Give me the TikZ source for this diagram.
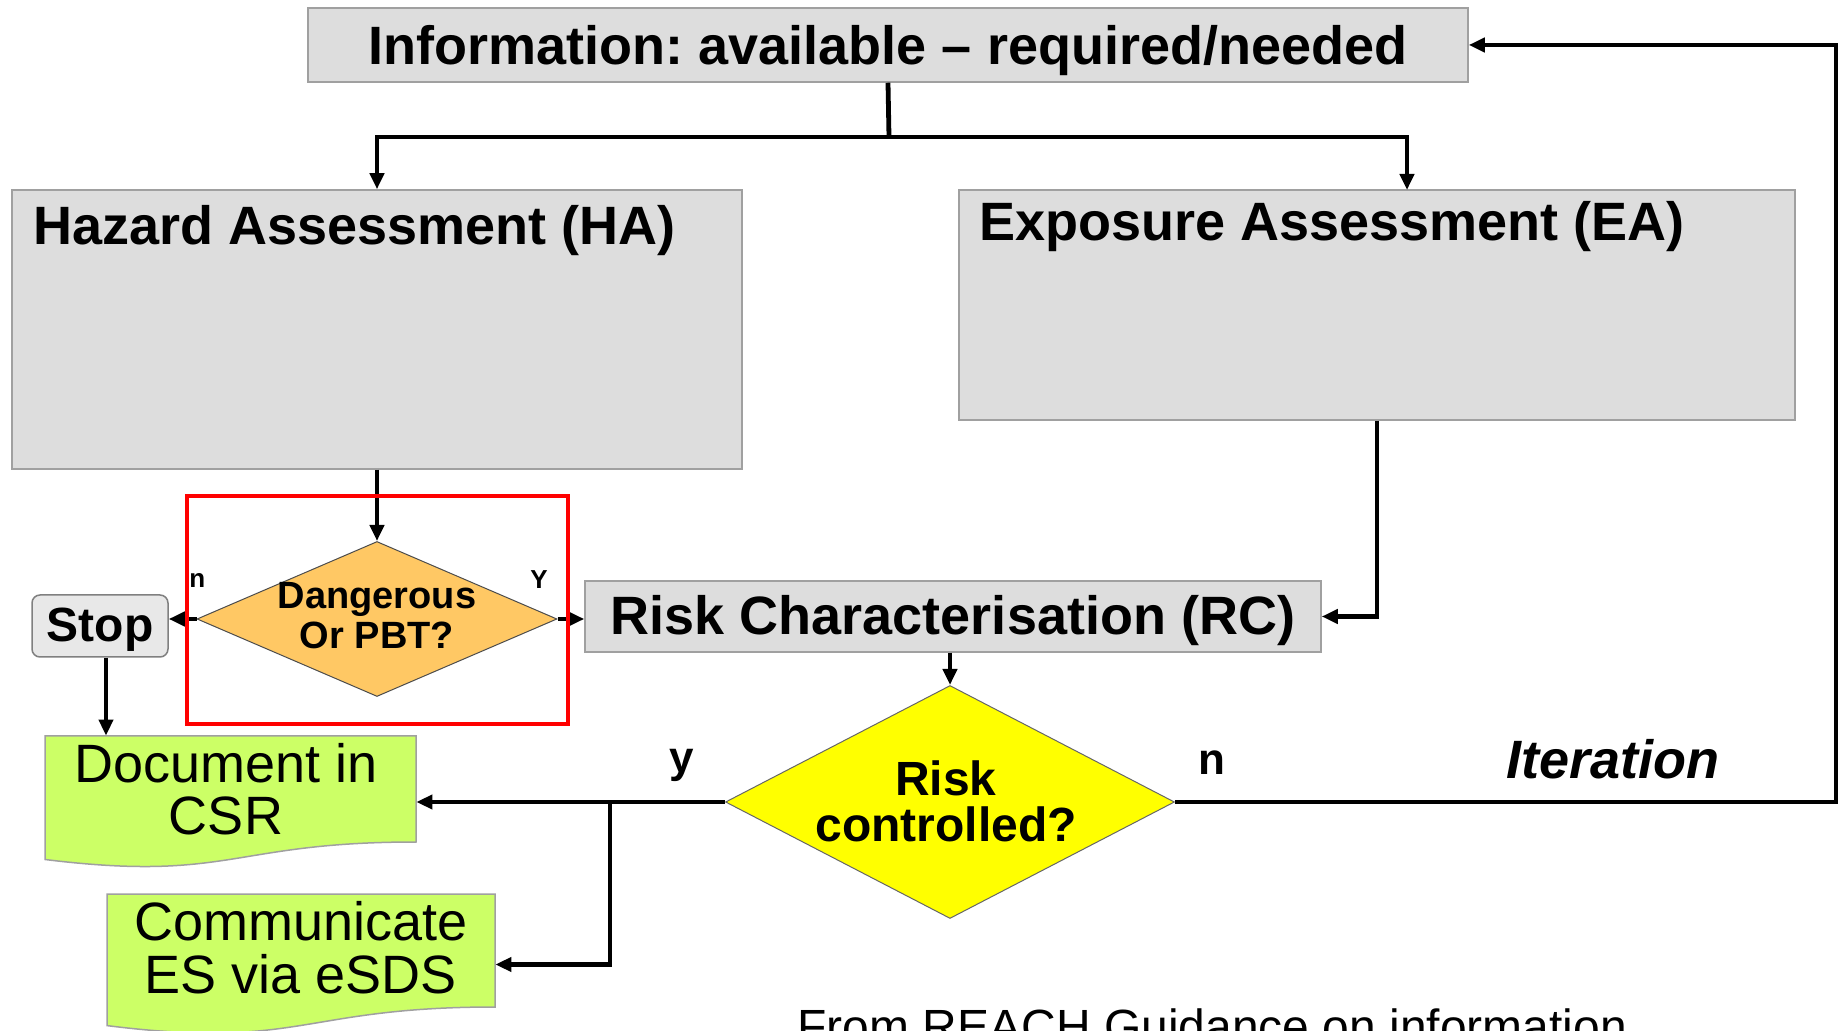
\documentclass[tikz,border=0pt]{standalone}
\usepackage{fontspec}
\setmainfont{Liberation Sans}
\usetikzlibrary{shapes.geometric,arrows.meta}
\definecolor{boxfill}{RGB}{221,221,221}
\definecolor{boxborder}{RGB}{160,160,160}
\definecolor{stopfill}{RGB}{232,232,232}
\definecolor{dangerfill}{RGB}{255,200,100}
\definecolor{riskfill}{RGB}{255,255,0}
\definecolor{greenfill}{RGB}{204,255,102}
\definecolor{hired}{RGB}{255,0,0}
\newcommand{\fsz}[2]{\fontsize{#1}{#2}\selectfont}
\frenchspacing
\begin{document}
\frenchspacing
\begin{tikzpicture}[x=0.5pt,y=-0.5pt,
  graybox/.style={draw=boxborder,fill=boxfill,line width=0.75pt,inner sep=0pt,anchor=center},
  anchorbox/.style={draw=none,inner sep=0pt,anchor=center},
  bigbold/.style={font=\fsz{27pt}{32pt}\bfseries},
  docshape/.style={draw=boxborder,fill=greenfill,line width=0.75pt},
  line/.style={line width=2.4pt},
  conn/.style={line width=2.4pt,-{Triangle[length=8pt,width=7pt]}},
  smalllab/.style={font=\fsz{13pt}{15pt}\bfseries,inner sep=0pt},
  yn/.style={font=\fsz{22pt}{26pt}\bfseries,inner sep=0pt,anchor=base}
]
\fill[white] (0,0) rectangle (1843,1031);
\useasboundingbox (0,0) rectangle (1843,1031);

% top information box
\node[graybox,bigbold,minimum width=580pt,minimum height=37pt,text height=20pt,text depth=0pt] (info) at (888,45) {Information: available – required/needed};

% assessment boxes
\node[graybox,minimum width=365pt,minimum height=139.5pt] (ha) at (377,329.5) {};
\node[bigbold,anchor=base west,inner sep=0pt] (hatext) at (33,245) {Hazard Assessment (HA)};
\node[graybox,minimum width=418pt,minimum height=115pt] (ea) at (1377,305) {};
\node[bigbold,anchor=base west,inner sep=0pt] (eatext) at (979,241) {Exposure Assessment (EA)};

% risk characterisation
\node[graybox,bigbold,minimum width=368pt,minimum height=35.5pt,text height=18.5pt,text depth=0pt] (rc) at (953,616.5) {Risk Characterisation (RC)};

% stop
\node[draw=boxborder!80!black,fill=stopfill,line width=0.75pt,rounded corners=4pt,inner sep=0pt,
      minimum width=68pt,minimum height=31pt,text height=16pt,text depth=0pt,
      font=\fsz{24pt}{28pt}\bfseries] (stop) at (100,626) {Stop};

% diamonds
\node[diamond,draw=black!70,fill=dangerfill,line width=0.5pt,inner sep=0pt,
      minimum width=180pt,minimum height=77.5pt] (d1) at (377,619) {};
\node[align=center,font=\fsz{19pt}{20pt}\bfseries,inner sep=0pt] (d1text) at (377,616) {Dangerous\\Or PBT?};
\node[diamond,draw=black!60,fill=riskfill,line width=0.5pt,inner sep=0pt,
      minimum width=224.5pt,minimum height=116.5pt] (d2) at (950,802) {};
\node[align=center,font=\fsz{24pt}{23pt}\bfseries,inner sep=0pt] (d2text) at (946,801) {Risk\\controlled?};

% document shapes
\filldraw[docshape] (45,736) -- (416,736) -- (416,842) .. controls (230.5,842) and (230.5,882.4) .. (45,859.5) -- cycle;
\node[anchorbox,minimum width=185.5pt,minimum height=66pt] (doc) at (230.5,802) {};
\node[align=center,font=\fsz{27pt}{26pt},inner sep=0pt] (doctxt) at (226,789.5) {Document in\\CSR};
\filldraw[docshape] (107,894) -- (495,894) -- (495,1007) .. controls (301,1007) and (301,1050) .. (107,1025.6) -- cycle;
\node[anchorbox,minimum width=194pt,minimum height=70.5pt] (comm) at (301,964.5) {};
\node[align=center,font=\fsz{27pt}{26.5pt},inner sep=0pt] (commtxt) at (301,948) {Communicate\\ES via eSDS};

% helper coordinates
\coordinate (br1) at (889,137);
\coordinate (eain) at (1407,190);
\coordinate (ybr) at (610,802);
\coordinate (loop) at (1836,400);

% connectors
\draw[line] (info.south) -- (br1);
\draw[conn] (br1) -| (ha.north);
\draw[conn] (br1) -| (eain);
\draw[conn] (ha.south) -- (d1.north);
\draw[conn] (d1.west) -- (d1.west -| stop.east);
\draw[conn] (d1.east) -- (d1.east -| rc.west);
\draw[conn] ([xshift=3pt]stop.south) -- ([xshift=3pt]stop.south |- doc.north);
\draw[conn] (ea.south) |- (rc.east);
\draw[conn] (rc.south -| d2.north) -- (d2.north);
\draw[conn] (d2.west) -- (d2.west -| doc.east);
\draw[conn] (ybr) |- (comm.east);
\draw[conn] (d2.east) -| (loop) |- (info.east);

% labels
\node[smalllab,anchor=base west] (nlab1) at (189,588) {n};
\node[smalllab,anchor=base] (ylab1) at (539,589) {Y};
\node[yn] (ylab2) at (682,773) {y};
\node[yn] (nlab2) at (1212,775) {n};
\node[font=\fsz{27pt}{32pt}\bfseries\itshape,anchor=base,inner sep=0pt] (iter) at (1613,778) {Iteration};

% highlight
\node[draw=hired,line width=2.4pt,inner sep=0pt,minimum width=190.5pt,minimum height=114pt] (hl) at (377.5,610) {};

% source note (cut off at the bottom edge)
\begin{scope}
\clip (0,0) rectangle (1843,1031);
\node[font=\fsz{24pt}{28pt},anchor=base west,inner sep=0pt] (source) at (797,1043) {From REACH Guidance on information};
\end{scope}
\end{tikzpicture}
\end{document}
